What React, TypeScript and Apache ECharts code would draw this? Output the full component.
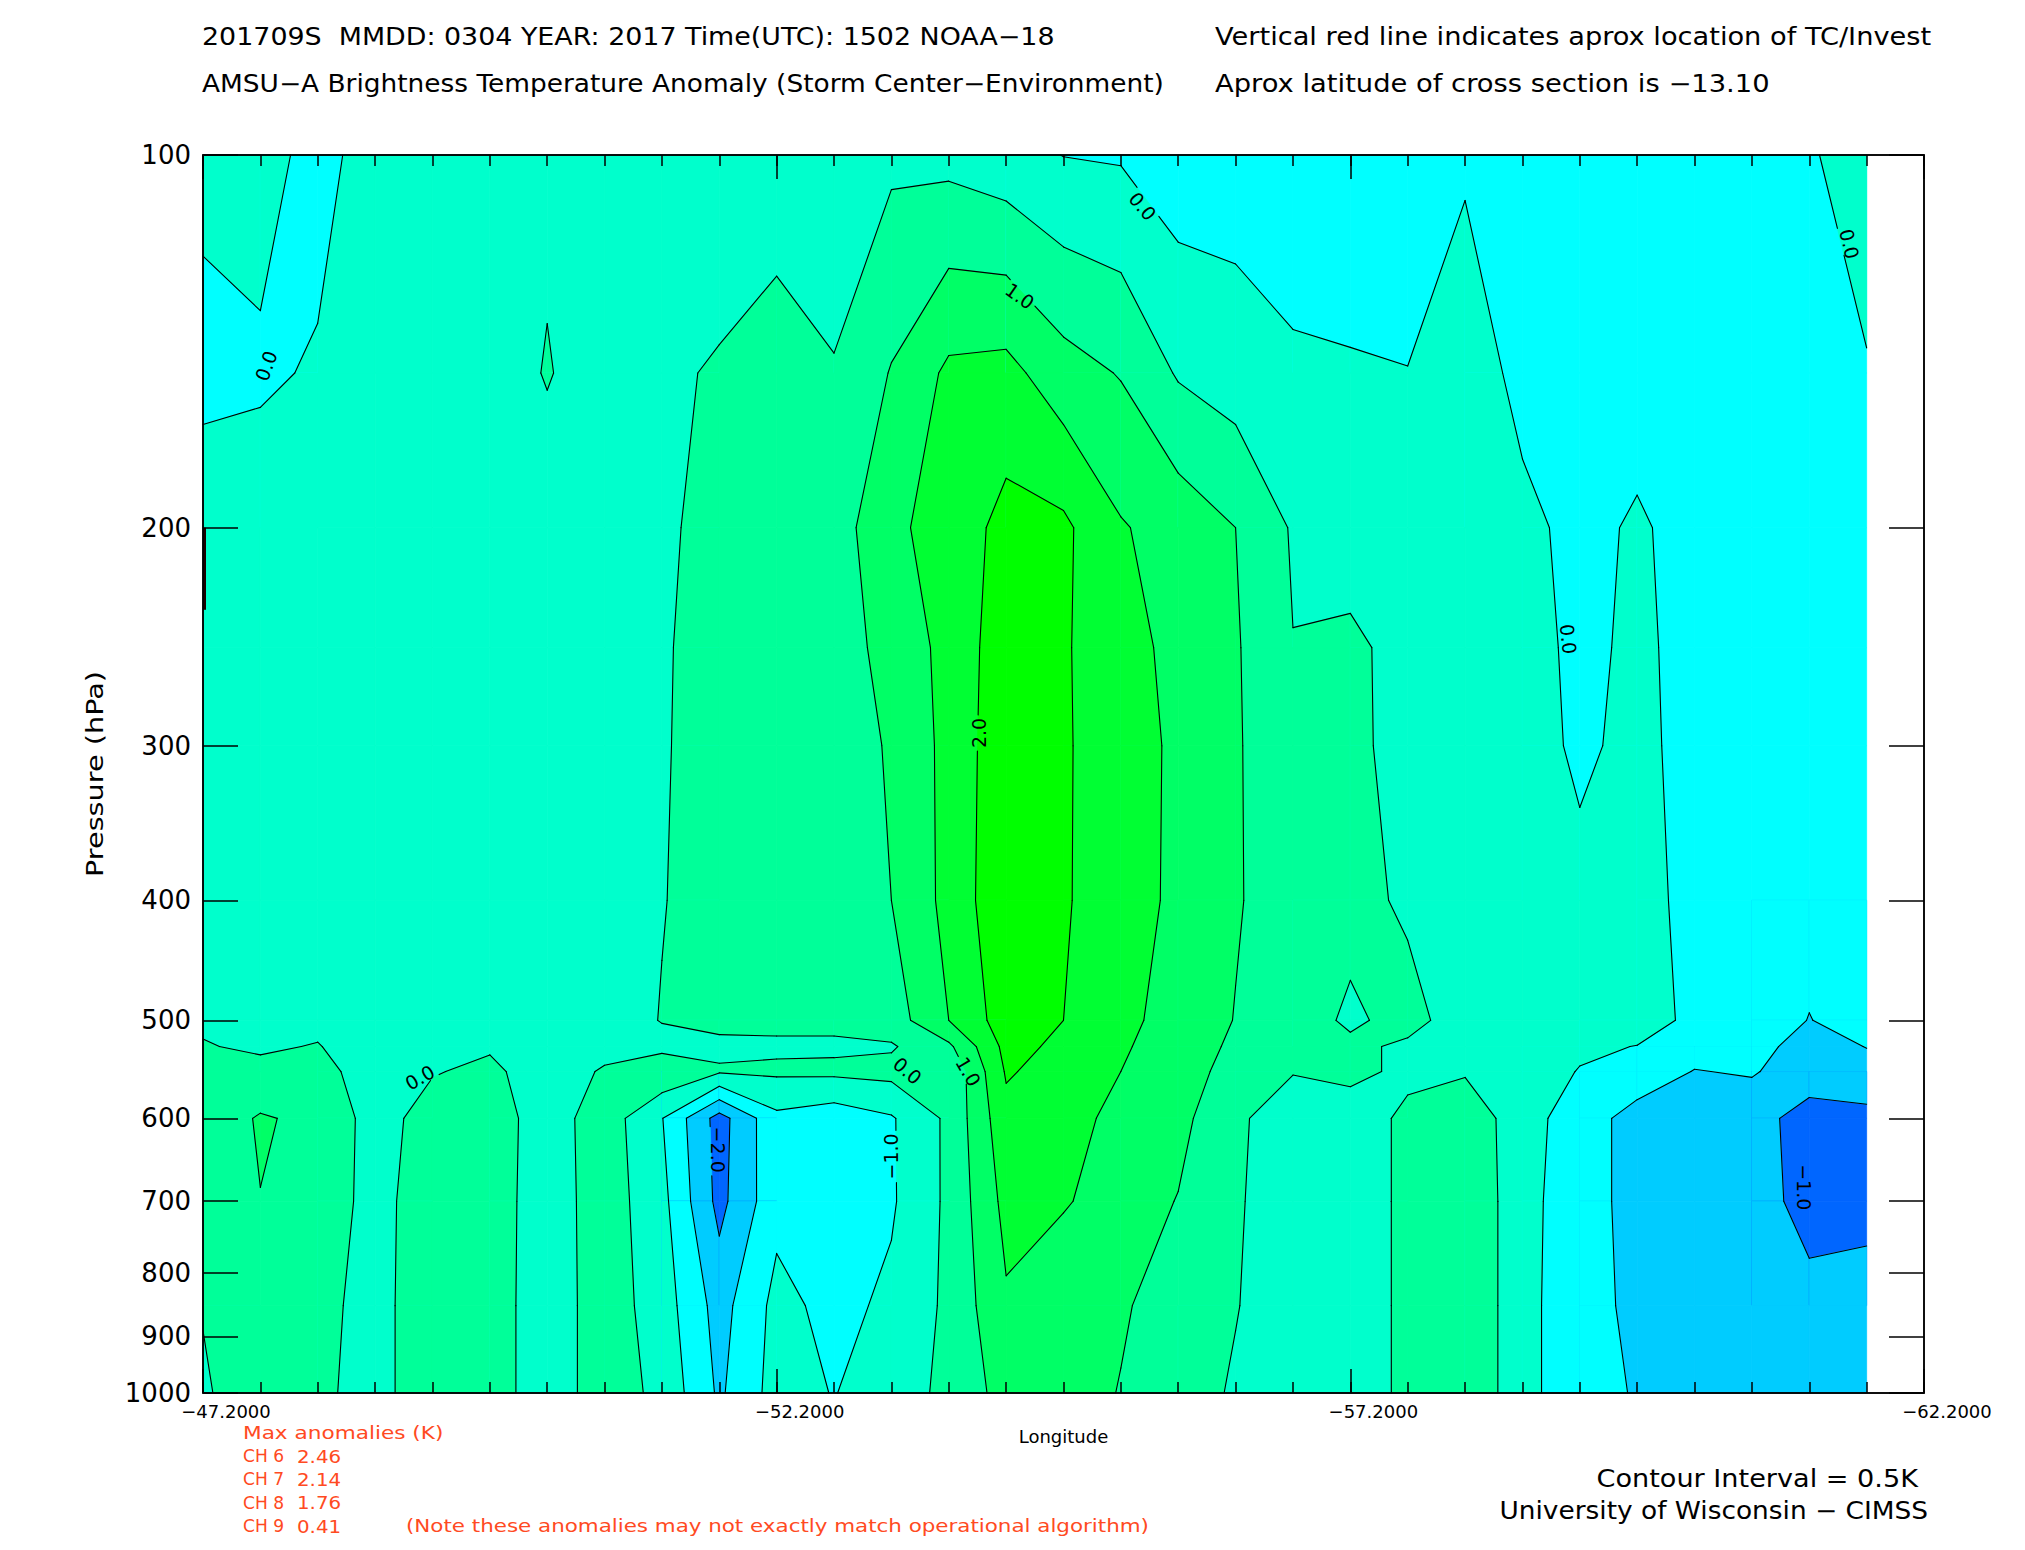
import React, { useEffect, useRef } from "react";
import * as echarts from "echarts";

// ---------------- data ----------------
// grid longitudes (deg) and pressure levels (hPa)
const longitudes = [
  -47.2, -47.7, -48.2, -48.7, -49.2, -49.7, -50.2, -50.7, -51.2, -51.7,
  -52.2, -52.7, -53.2, -53.7, -54.2, -54.7, -55.2, -55.7, -56.2, -56.7,
  -57.2, -57.7, -58.2, -58.7, -59.2, -59.7, -60.2, -60.7, -61.2, -61.7,
];
const pressureLevels = [100, 150, 200, 250, 300, 400, 500, 525, 550, 600, 700, 850, 1000];

// brightness temperature anomaly (K), one row per pressure level
const anomaly100 = [0.13, 0.3, -0.27, 0.35, 0.3, 0.3, 0.33, 0.3, 0.3, 0.3, 0.3, 0.3, 0.4, 0.35, 0.19, -0.01, -0.05, -0.3, -0.25, -0.3, -0.3, -0.3, -0.1, -0.3, -0.3, -0.3, -0.2, -0.25, -0.05, 0.23];
const anomaly150 = [-0.15, -0.12, 0.08, 0.3, 0.25, 0.1, 0.55, 0.1, 0.45, 0.53, 0.66, 0.52, 1.03, 1.6, 1.66, 1.2, 0.97, 0.45, 0.25, 0.075, 0.04, 0.01, 0.38, -0.2, -0.3, -0.3, -0.25, -0.25, -0.25, -0.03];
const anomaly200 = [0.3, 0.42, 0.3, 0.25, 0.25, 0.25, 0.1, 0.25, 0.45, 0.6, 0.7, 0.75, 1.4, 1.7, 2.16, 2.1, 1.54, 1.3, 1.0, 0.45, 0.2, 0.25, 0.3, 0.16, -0.18, 0.08, -0.22, -0.25, -0.3, -0.25];
const anomaly250 = [0.25, 0.25, 0.28, 0.25, 0.25, 0.25, 0.25, 0.25, 0.45, 0.7, 0.72, 0.75, 1.18, 1.65, 2.3, 2.05, 1.7, 1.35, 1.05, 0.51, 0.62, 0.3, 0.3, 0.25, -0.15, 0.12, -0.2, -0.25, -0.3, -0.3];
const anomaly300 = [0.25, 0.25, 0.25, 0.25, 0.25, 0.25, 0.25, 0.25, 0.46, 0.7, 0.72, 0.75, 1.05, 1.65, 2.35, 2.05, 1.75, 1.4, 1.05, 0.65, 0.6, 0.35, 0.3, 0.25, -0.1, 0.15, -0.2, -0.25, -0.3, -0.3];
const anomaly400 = [0.25, 0.25, 0.25, 0.25, 0.25, 0.25, 0.25, 0.25, 0.48, 0.7, 0.72, 0.75, 1.0, 1.65, 2.4, 2.05, 1.72, 1.4, 1.05, 0.7, 0.6, 0.45, 0.3, 0.25, 0.15, 0.18, -0.15, -0.3, -0.35, -0.3];
const anomaly500 = [0.45, 0.3, 0.4, 0.25, 0.25, 0.3, 0.25, 0.25, 0.52, 0.62, 0.62, 0.62, 0.75, 1.5, 2.25, 2.0, 1.6, 1.35, 0.98, 0.65, 0.45, 0.6, 0.35, 0.25, 0.15, 0.2, -0.1, -0.3, -0.51, -0.35];
const anomaly525 = [0.52, 0.45, 0.52, 0.27, 0.35, 0.45, 0.25, 0.35, 0.35, 0.4, 0.42, 0.42, 0.45, 0.9, 2.15, 1.9, 1.55, 1.3, 0.9, 0.58, 0.56, 0.45, 0.4, 0.24, 0.07, -0.01, -0.3, -0.37, -0.65, -0.49];
const anomaly550 = [0.6, 0.6, 0.65, 0.28, 0.47, 0.6, 0.25, 0.55, 0.9, 0.55, 0.58, 0.6, 0.65, 0.55, 2.05, 1.8, 1.5, 1.25, 0.8, 0.52, 0.62, 0.4, 0.45, 0.22, -0.02, -0.2, -0.52, -0.45, -0.8, -0.63];
const anomaly600 = [0.68, 1.05, 0.88, 0.3, 0.7, 0.75, 0.25, 0.77, 0.02, -1.2, -0.12, -0.3, -0.05, 0.6, 1.85, 1.7, 1.35, 1.15, 0.58, 0.25, 0.25, 0.6, 0.85, 0.2, -0.25, -0.7, -0.7, -0.85, -1.16, -1.16];
const anomaly700 = [0.65, 0.99, 0.75, 0.35, 0.75, 0.75, 0.22, 0.77, 0.15, -1.15, -0.15, -0.3, -0.06, 0.6, 1.65, 1.55, 1.25, 0.98, 0.55, 0.25, 0.25, 0.6, 0.9, 0.2, -0.35, -0.62, -0.75, -0.85, -1.12, -1.15];
const anomaly850 = [0.52, 0.8, 0.62, 0.35, 0.78, 0.75, 0.2, 0.77, 0.25, -0.7, 0.15, -0.15, 0.1, 0.6, 1.44, 1.1, 1.05, 0.8, 0.52, 0.25, 0.25, 0.6, 0.9, 0.2, -0.4, -0.56, -0.75, -0.8, -0.9, -0.8];
const anomaly1000 = [0.45, 0.74, 0.58, 0.35, 0.78, 0.75, 0.2, 0.77, 0.37, -0.58, 0.2, -0.02, 0.3, 0.6, 1.2, 1.2, 0.98, 0.7, 0.45, 0.25, 0.25, 0.6, 0.9, 0.2, -0.4, -0.52, -0.75, -0.8, -0.85, -0.75];

const anomalyRows = [
  anomaly100, anomaly150, anomaly200, anomaly250, anomaly300, anomaly400,
  anomaly500, anomaly525, anomaly550, anomaly600, anomaly700, anomaly850, anomaly1000,
];

// contour levels (0.5 K interval) and the fill colour of each band
const contourLevels = [-1.0, -0.5, 0.0, 0.5, 1.0, 1.5, 2.0];
const bandColors = ["#0066ff", "#00ccff", "#00ffff", "#00ffcc", "#00ff99", "#00ff66", "#00ff33", "#00ff00"];

// axis ticks
const pressureTicks = [100, 200, 300, 400, 500, 600, 700, 800, 900, 1000];
const lonMin = -62.2;
const lonMax = -47.2;

// contour labels as printed on the reference
const labelLon = [-47.75, -55.39, -54.32, -61.55, -59.1, -53.96, -49.09, -53.34, -53.87, -53.2, -51.69, -61.15];
const labelP = [148, 110, 130, 118, 246, 293, 556, 549, 550, 644, 636, 682];
const labelText = ["0.0", "0.0", "1.0", "0.0", "0.0", "2.0", "0.0", "0.0", "1.0", "\u22121.0", "\u22122.0", "\u22121.0"];
const labelAngle = [70, -50, -35, -76, -84, 90, 30, -40, -60, 90, -90, -90];

// storm location marker
const stormLon = [-47.2];
const stormTopP = [200];
const stormBottomP = [233];

// annotation texts
const maxAnomalyChannels = ["CH 6", "CH 7", "CH 8", "CH 9"];
const maxAnomalyValues = ["2.46", "2.14", "1.76", "0.41"];

// ---------------- helpers ----------------
type Pt = { x: number; y: number; v: number };

const LABEL_FONT_SIZE = 19;
const FONT = '"DejaVu Sans", "Liberation Sans", sans-serif';

function lerp(a: Pt, b: Pt, th: number): Pt {
  const f = (th - a.v) / (b.v - a.v);
  return { x: a.x + f * (b.x - a.x), y: a.y + f * (b.y - a.y), v: th };
}

function clipAbove(poly: Pt[], th: number): Pt[] {
  const out: Pt[] = [];
  for (let k = 0; k < poly.length; k++) {
    const a = poly[k];
    const b = poly[(k + 1) % poly.length];
    const ain = a.v >= th;
    const bin = b.v >= th;
    if (ain) out.push(a);
    if (ain !== bin) out.push(lerp(a, b, th));
  }
  return out;
}

// regions of a cell where value >= th, with the matching contour segments
function cellAbove(quad: Pt[], th: number): { polys: Pt[][]; segs: [Pt, Pt][] } {
  const ins = quad.map((q) => q.v >= th);
  const nIn = ins.filter(Boolean).length;
  const mean = (quad[0].v + quad[1].v + quad[2].v + quad[3].v) / 4;
  if (nIn === 2 && ins[0] === ins[2] && mean < th) {
    // saddle resolved with the lower values connected
    const polys: Pt[][] = [];
    const segs: [Pt, Pt][] = [];
    for (let k = 0; k < 4; k++) {
      if (!ins[k]) continue;
      const prev = quad[(k + 3) % 4];
      const cur = quad[k];
      const next = quad[(k + 1) % 4];
      const p1 = lerp(prev, cur, th);
      const p2 = lerp(cur, next, th);
      polys.push([p1, cur, p2]);
      segs.push([p2, p1]);
    }
    return { polys, segs };
  }
  const cr: (Pt & { exit: boolean })[] = [];
  for (let k = 0; k < 4; k++) {
    const a = quad[k];
    const b = quad[(k + 1) % 4];
    const ain = a.v >= th;
    const bin = b.v >= th;
    if (ain !== bin) cr.push({ ...lerp(a, b, th), exit: ain });
  }
  const segs: [Pt, Pt][] = [];
  for (let k = 0; k < cr.length; k++) {
    if (cr[k].exit) segs.push([cr[k], cr[(k + 1) % cr.length]]);
  }
  return { polys: [clipAbove(quad, th)], segs };
}

function textWidthEm(s: string) {
  let w = 0;
  for (const ch of s) w += ch === "." ? 0.318 : ch === "\u2212" ? 0.838 : 0.636;
  return w;
}

type Box = { cx: number; cy: number; c: number; s: number; hw: number; hh: number };

function cutByBox(p: { x: number; y: number }, q: { x: number; y: number }, b: Box) {
  const toLocal = (pt: { x: number; y: number }) => {
    const dx = pt.x - b.cx;
    const dy = pt.y - b.cy;
    return [dx * b.c - dy * b.s, dx * b.s + dy * b.c];
  };
  const [u0, w0] = toLocal(p);
  const [u1, w1] = toLocal(q);
  const du = u1 - u0;
  const dw = w1 - w0;
  let t0 = 0;
  let t1 = 1;
  const test = (pp: number, qq: number) => {
    if (pp === 0) return qq >= 0;
    const r = qq / pp;
    if (pp < 0) {
      if (r > t1) return false;
      if (r > t0) t0 = r;
    } else {
      if (r < t0) return false;
      if (r < t1) t1 = r;
    }
    return true;
  };
  if (test(-du, u0 + b.hw) && test(du, b.hw - u0) && test(-dw, w0 + b.hh) && test(dw, b.hh - w0)) {
    const at = (t: number) => ({ x: p.x + t * (q.x - p.x), y: p.y + t * (q.y - p.y) });
    const res: { x: number; y: number }[][] = [];
    if (t0 > 1e-6) res.push([p, at(t0)]);
    if (t1 < 1 - 1e-6) res.push([at(t1), q]);
    return res;
  }
  return [[p, q]];
}

function renderField(_params: any, api: any) {
  const pts: Pt[][] = pressureLevels.map((p, j) =>
    longitudes.map((lon, i) => {
      const c = api.coord([lon, Math.log10(p)]);
      return { x: c[0], y: c[1], v: anomalyRows[j][i] };
    })
  );

  const boxes: Box[] = labelText.map((t, k) => {
    const c = api.coord([labelLon[k], Math.log10(labelP[k])]);
    const a = (labelAngle[k] * Math.PI) / 180;
    return {
      cx: c[0],
      cy: c[1],
      c: Math.cos(a),
      s: Math.sin(a),
      hw: (textWidthEm(t) * LABEL_FONT_SIZE) / 2 + 3,
      hh: LABEL_FONT_SIZE * 0.42,
    };
  });

  const fills: any[] = [];
  const lines: any[] = [];
  const addPoly = (poly: Pt[], color: string) => {
    if (poly.length < 3) return;
    fills.push({
      type: "polygon",
      shape: { points: poly.map((q) => [q.x, q.y]) },
      style: { fill: color, stroke: color, lineWidth: 0.8 },
      silent: true,
    });
  };
  const addSeg = (a: { x: number; y: number }, b: { x: number; y: number }) => {
    let pieces = [[a, b]];
    for (const bx of boxes) {
      const next: { x: number; y: number }[][] = [];
      pieces.forEach(([p, q]) => cutByBox(p, q, bx).forEach((r) => next.push(r)));
      pieces = next;
    }
    pieces.forEach(([p, q]) => {
      lines.push({
        type: "line",
        shape: { x1: p.x, y1: p.y, x2: q.x, y2: q.y },
        style: { stroke: "#000", lineWidth: 1.1, lineCap: "round" },
        silent: true,
      });
    });
  };

  for (let j = 0; j < pressureLevels.length - 1; j++) {
    for (let i = 0; i < longitudes.length - 1; i++) {
      const quad = [pts[j][i], pts[j][i + 1], pts[j + 1][i + 1], pts[j + 1][i]];
      const vs = quad.map((q) => q.v);
      const vmin = Math.min(...vs);
      const vmax = Math.max(...vs);
      let base = 0;
      while (base < contourLevels.length && contourLevels[base] <= vmin) base++;
      addPoly(quad, bandColors[base]);
      for (let t = base; t < contourLevels.length; t++) {
        const th = contourLevels[t];
        if (th > vmax) break;
        const { polys, segs } = cellAbove(quad, th);
        polys.forEach((pl) => addPoly(pl, bandColors[t + 1]));
        segs.forEach(([a, b]) => addSeg(a, b));
      }
    }
  }

  const storm = stormLon.map((lon, k) => {
    const a = api.coord([lon, Math.log10(stormTopP[k])]);
    const b = api.coord([lon, Math.log10(stormBottomP[k])]);
    return {
      type: "line",
      shape: { x1: a[0] + 1.5, y1: a[1], x2: b[0] + 1.5, y2: b[1] },
      style: { stroke: "#1a0000", lineWidth: 3 },
      silent: true,
    };
  });

  const labels = labelText.map((t, k) => ({
    type: "text",
    x: boxes[k].cx,
    y: boxes[k].cy,
    rotation: (labelAngle[k] * Math.PI) / 180,
    style: {
      text: t,
      fill: "#000",
      font: `${LABEL_FONT_SIZE}px ${FONT}`,
      align: "center",
      verticalAlign: "middle",
      textAlign: "center",
      textVerticalAlign: "middle",
    },
    silent: true,
  }));

  return { type: "group", children: [...fills, ...lines, ...storm, ...labels] };
}

function fmtLon(v: number) {
  const s = Math.abs(v).toFixed(4);
  return (v < 0 ? "\u2212" : "") + s;
}

function txt(text: string, x: number, y: number, size: number, opts: any = {}) {
  return {
    type: "text",
    x,
    y,
    rotation: opts.rotation || 0,
    scaleX: opts.scaleX || 1,
    style: {
      text,
      fill: opts.color || "#000",
      font: `${size}px ${FONT}`,
      align: opts.align || "left",
      verticalAlign: "middle",
      textAlign: opts.align || "left",
      textVerticalAlign: "middle",
    },
    silent: true,
  };
}

const RED = "#ff4a22";

function buildOption() {
  const axisLineStyle = { color: "#000", width: 1.5 };
  const xBase = {
    type: "value" as const,
    min: lonMin,
    max: lonMax,
    inverse: true,
    splitLine: { show: false },
    z: 10,
  };
  const yBase = {
    type: "value" as const,
    min: 2,
    max: 3,
    inverse: true,
    splitLine: { show: false },
    z: 10,
  };
  const logTicks = pressureTicks.map((p) => Math.log10(p));
  const graphics: any[] = [
    txt("201709S  MMDD: 0304 YEAR: 2017 Time(UTC): 1502 NOAA\u221218", 202, 37, 24, { scaleX: 1.12 }),
    txt("AMSU\u2212A Brightness Temperature Anomaly (Storm Center\u2212Environment)", 202, 84, 24, { scaleX: 1.1 }),
    txt("Vertical red line indicates aprox location of TC/Invest", 1215, 37, 24, { scaleX: 1.135 }),
    txt("Aprox latitude of cross section is \u221213.10", 1215, 84, 24, { scaleX: 1.14 }),
    txt("Pressure (hPa)", 95, 774, 23, { rotation: Math.PI / 2, align: "center", scaleX: 1.25 }),
    txt("Max anomalies (K)", 243, 1433, 18, { color: RED, scaleX: 1.2 }),
    txt("(Note these anomalies may not exactly match operational algorithm)", 406, 1526, 18, { color: RED, scaleX: 1.19 }),
    txt("Contour Interval = 0.5K", 1918, 1479, 24, { align: "right", scaleX: 1.13 }),
    txt("University of Wisconsin \u2212 CIMSS", 1928, 1511, 24, { align: "right", scaleX: 1.1 }),
  ];
  maxAnomalyChannels.forEach((ch, k) => {
    graphics.push(txt(ch, 243, 1456 + k * 23.3, 18, { color: RED, scaleX: 0.95 }));
    graphics.push(txt(maxAnomalyValues[k], 297, 1456 + k * 23.3, 18, { color: RED, scaleX: 1.1 }));
  });

  return {
    animation: false,
    backgroundColor: "#fff",
    grid: {
      left: 203,
      top: 155,
      width: 1721,
      height: 1238,
      show: true,
      borderColor: "#000",
      borderWidth: 1.5,
      backgroundColor: "transparent",
      containLabel: false,
      outerBoundsMode: "none",
      z: 10,
    },
    xAxis: [
      {
        ...xBase,
        position: "bottom",
        interval: 5,
        axisLine: { show: true, lineStyle: axisLineStyle },
        axisTick: { show: true, inside: true, length: 24, lineStyle: axisLineStyle },
        axisLabel: {
          show: true,
          formatter: fmtLon,
          color: "#000",
          fontSize: 18,
          fontFamily: FONT,
          margin: 9,
          padding: [0, 0, 0, 46],
          showMinLabel: true,
          showMaxLabel: true,
        },
        name: "Longitude",
        nameLocation: "middle",
        nameGap: 34,
        nameTextStyle: { color: "#000", fontSize: 18, fontFamily: FONT },
      },
      {
        ...xBase,
        position: "bottom",
        interval: 0.5,
        axisLine: { show: false },
        axisTick: { show: true, inside: true, length: 11, lineStyle: axisLineStyle },
        axisLabel: { show: false },
      },
      {
        ...xBase,
        position: "top",
        interval: 5,
        axisLine: { show: true, lineStyle: axisLineStyle },
        axisTick: { show: true, inside: true, length: 24, lineStyle: axisLineStyle },
        axisLabel: { show: false },
      },
      {
        ...xBase,
        position: "top",
        interval: 0.5,
        axisLine: { show: false },
        axisTick: { show: true, inside: true, length: 11, lineStyle: axisLineStyle },
        axisLabel: { show: false },
      },
    ],
    yAxis: [
      {
        ...yBase,
        position: "left",
        axisLine: { show: true, lineStyle: axisLineStyle },
        axisTick: { show: true, inside: true, length: 35, lineStyle: axisLineStyle, customValues: logTicks },
        axisLabel: {
          show: true,
          customValues: logTicks,
          formatter: (v: number) => String(Math.round(Math.pow(10, v))),
          color: "#000",
          fontSize: 26,
          fontFamily: FONT,
          margin: 12,
        },
      },
      {
        ...yBase,
        position: "right",
        axisLine: { show: true, lineStyle: axisLineStyle },
        axisTick: { show: true, inside: true, length: 35, lineStyle: axisLineStyle, customValues: logTicks },
        axisLabel: { show: false, customValues: logTicks },
      },
    ],
    series: [
      {
        type: "custom",
        coordinateSystem: "cartesian2d",
        xAxisIndex: 0,
        yAxisIndex: 0,
        clip: false,
        silent: true,
        z: 1,
        data: [[longitudes[0], Math.log10(pressureLevels[0])]],
        renderItem: renderField,
      },
    ],
    graphic: { elements: graphics },
  };
}

export default function App() {
  const ref = useRef<HTMLDivElement>(null);
  useEffect(() => {
    document.body.style.margin = "0";
    const chart = echarts.init(ref.current!, null, { renderer: "svg" });
    chart.setOption(buildOption() as any);
    return () => chart.dispose();
  }, []);
  return <div ref={ref} style={{ width: 2025, height: 1550, background: "#fff" }} />;
}
